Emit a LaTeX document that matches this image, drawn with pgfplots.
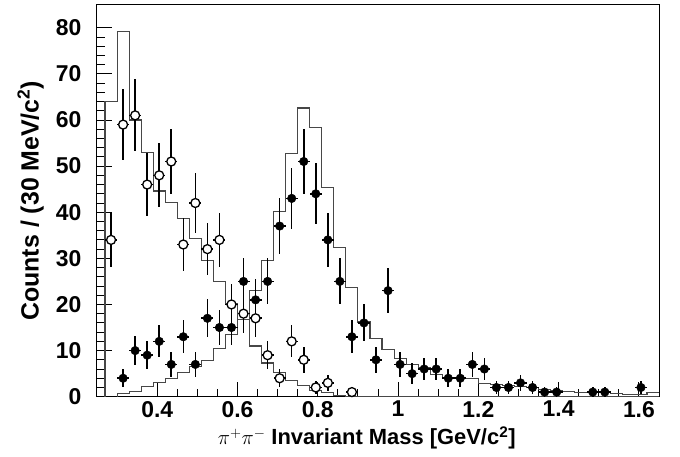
\documentclass[border=0pt]{standalone}
\usepackage{fontspec}
\setmainfont{Liberation Sans}
\usepackage{pgfplots}
\pgfplotsset{compat=1.18}
\usetikzlibrary{calc}
\begin{document}
\begin{tikzpicture}
\begin{axis}[
  scale only axis,
  width=562bp, height=392bp,
  xmin=0.25, xmax=1.65, ymin=0, ymax=85,
  xtick={0.4,0.6,0.8,1.0,1.2,1.4,1.6},
  xticklabels={0.4,0.6,0.8,1,1.2,1.4,1.6},
  ytick={0,10,20,30,40,50,60,70,80},
  minor x tick num=3,
  minor y tick num=4,
  tick pos=left,
  tick align=inside,
  major tick length=15bp,
  minor tick length=8bp,
  every tick/.style={black, line width=0.9bp},
  axis line style={line width=1bp, black},
  /pgf/number format/assume math mode=true,
  ticklabel style={font=\bfseries\fontsize{23}{26}\selectfont},
  xticklabel style={yshift=-1bp},
  yticklabel style={anchor=east, xshift=-12bp},
  xlabel={$\pi^{+}\pi^{-}$ \textbf{Invariant Mass [GeV/c\textsuperscript{2}]}},
  ylabel={\textbf{Counts / (30 MeV/c\textsuperscript{2})}},
  xlabel style={font=\bfseries\fontsize{22}{26}\selectfont, at={(axis description cs:0.48,-0.105)}, anchor=center},
  ylabel style={font=\bfseries\fontsize{25}{28}\selectfont, at={(axis description cs:-0.118,0.5)}, anchor=center},
  clip=true,
]
\coordinate (ll) at (rel axis cs:0,0);
\coordinate (ur) at (rel axis cs:1,1);
% low-mass histogram
\addplot[const plot, draw=black!72, line width=1.1bp] coordinates {
(0.27,0) (0.27,64) (0.30,79.2) (0.33,60) (0.36,53) (0.39,44.6) (0.42,42.2)
(0.45,38.7) (0.48,34.3) (0.51,29.6) (0.54,24.9) (0.57,20.1) (0.60,16.8)
(0.63,11) (0.66,7.3) (0.69,5.3) (0.72,3.6) (0.75,2.5) (0.78,1.4) (0.81,0.9)
(0.84,0.3) (0.87,0.1) (0.90,0) (1.65,0)
};
% rho histogram
\addplot[const plot, draw=black!72, line width=1.1bp] coordinates {
(0.30,0) (0.30,0.6) (0.33,1.2) (0.36,2.2) (0.39,3.0) (0.42,4.0) (0.45,5.3)
(0.48,6.5) (0.51,7.9) (0.54,10.5) (0.57,13.5) (0.60,16.7) (0.63,23)
(0.66,29.5) (0.69,40.2) (0.72,52.7) (0.75,62.6) (0.78,58.4) (0.81,45.4)
(0.84,32.3) (0.87,23.7) (0.90,16.2) (0.93,12.6) (0.96,10.3) (0.99,8.3)
(1.02,6.9) (1.05,6.4) (1.08,4.8) (1.11,4.0) (1.14,3.9) (1.17,3.9)
(1.20,2.9) (1.23,2.6) (1.26,2.4) (1.29,2.2) (1.32,2.0) (1.35,1.5)
(1.38,1.4) (1.41,1.2) (1.44,1.0) (1.47,1.0) (1.50,0.9) (1.53,0.7)
(1.56,0.4) (1.59,0.5) (1.62,0.9) (1.65,0.9)
};
% filled points
\addplot[only marks, mark=*, mark size=4.3bp, black,
  error bars/.cd, x dir=both, x explicit, y dir=both, y explicit,
  error bar style={line width=1.6bp, black}, error mark=none]
coordinates {
(0.315,4) +- (0.015,2)
(0.345,10) +- (0.015,3.16)
(0.375,9) +- (0.015,3)
(0.405,12) +- (0.015,3.46)
(0.435,7) +- (0.015,2.65)
(0.465,13) +- (0.015,3.61)
(0.495,7) +- (0.015,2.65)
(0.525,17) +- (0.015,4.12)
(0.555,15) +- (0.015,3.87)
(0.585,15) +- (0.015,3.87)
(0.615,25) +- (0.015,5)
(0.645,21) +- (0.015,4.58)
(0.675,25) +- (0.015,5)
(0.705,37) +- (0.015,6.08)
(0.735,43) +- (0.015,6.56)
(0.765,51) +- (0.015,7.14)
(0.795,44) +- (0.015,6.63)
(0.825,34) +- (0.015,5.83)
(0.855,25) +- (0.015,5)
(0.885,13) +- (0.015,3.61)
(0.915,16) +- (0.015,4)
(0.945,8) +- (0.015,2.83)
(0.975,23) +- (0.015,4.80)
(1.005,7) +- (0.015,2.65)
(1.035,5) +- (0.015,2.24)
(1.065,6) +- (0.015,2.45)
(1.095,6) +- (0.015,2.45)
(1.125,4) +- (0.015,2)
(1.155,4) +- (0.015,2)
(1.185,7) +- (0.015,2.65)
(1.215,6) +- (0.015,2.45)
(1.245,2) +- (0.015,1.41)
(1.275,2) +- (0.015,1.41)
(1.305,3) +- (0.015,1.73)
(1.335,2) +- (0.015,1.41)
(1.365,1) +- (0.015,1)
(1.395,1) +- (0.015,1)
(1.485,1) +- (0.015,1)
(1.515,1) +- (0.015,1)
(1.605,2) +- (0.015,1.41)
};
% open points
\addplot[only marks, mark=*, mark size=4.5bp, mark options={fill=white, draw=black, line width=1.3bp},
  error bars/.cd, x dir=both, x explicit, y dir=both, y explicit,
  error bar style={line width=1.6bp, black}, error mark=none]
coordinates {
(0.285,34) +- (0.015,5.83)
(0.315,59) +- (0.015,7.68)
(0.345,61) +- (0.015,7.81)
(0.375,46) +- (0.015,6.78)
(0.405,48) +- (0.015,6.93)
(0.435,51) +- (0.015,7.14)
(0.465,33) +- (0.015,5.74)
(0.495,42) +- (0.015,6.48)
(0.525,32) +- (0.015,5.66)
(0.555,34) +- (0.015,5.83)
(0.585,20) +- (0.015,4.47)
(0.615,18) +- (0.015,4.24)
(0.645,17) +- (0.015,4.12)
(0.675,9) +- (0.015,3)
(0.705,4) +- (0.015,2)
(0.735,12) +- (0.015,3.46)
(0.765,8) +- (0.015,2.83)
(0.795,2) +- (0.015,1.41)
(0.825,3) +- (0.015,1.73)
(0.885,1) +- (0.015,1)
};
\end{axis}
\pgfresetboundingbox
\path (ll) ++(-97bp,-60.3bp) rectangle ($(ur)+(21bp,4.7bp)$);
\end{tikzpicture}
\end{document}
